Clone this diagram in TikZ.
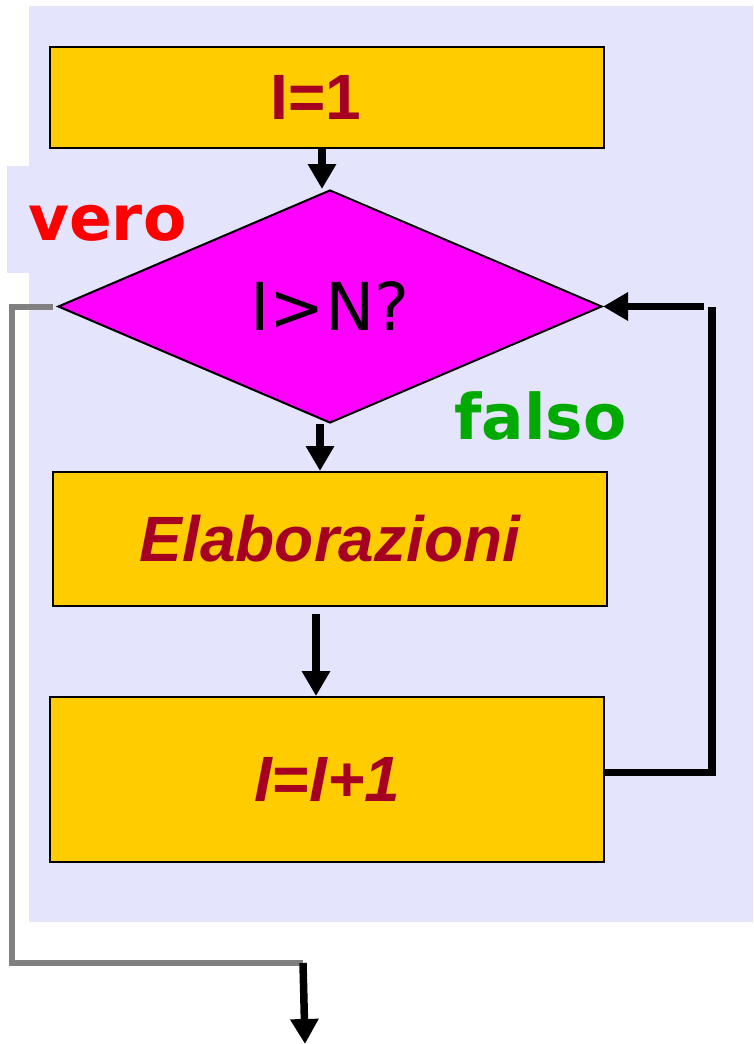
\documentclass[tikz,border=0pt]{standalone}
\usepackage{fontspec}
\setmainfont{Liberation Sans}
\newfontfamily\dejavu{DejaVu Sans}
\usetikzlibrary{shapes.geometric,arrows.meta}
\definecolor{lav}{RGB}{228,228,252}
\definecolor{boxyel}{RGB}{255,204,0}
\definecolor{txtred}{RGB}{165,0,33}
\definecolor{grn}{RGB}{0,170,0}
\definecolor{linegray}{RGB}{128,128,128}
\definecolor{magfill}{RGB}{255,0,255}
\begin{document}
\begin{tikzpicture}[x=1pt,y=-1pt,
  procbox/.style={draw=black,line width=2pt,fill=boxyel,minimum width=554pt,inner sep=0pt,text=txtred,font=\fontsize{64}{64}\selectfont\bfseries},
  decide/.style={diamond,draw=black,line width=2pt,fill=magfill,minimum width=544pt,minimum height=233pt,aspect=2.33,inner sep=0pt,font=\dejavu\fontsize{66}{66}\selectfont},
  arr/.style={line width=7.5pt,-{Triangle[length=25pt,width=27pt]}},
  grayline/.style={line width=6pt,draw=linegray},
  lbl/.style={anchor=base west,inner sep=0pt,font=\dejavu\bfseries\fontsize{63}{63}\selectfont}]
\useasboundingbox (0,0) rectangle (753,1044);
\fill[lav] (29,6) rectangle (753,922);
\fill[lav] (7,166) rectangle (29,273);

\node[procbox,minimum height=101pt] (b1) at (327,97.5) {I=1\hspace*{22pt}};
\node[decide] (dia) at (330,306.5) {I>N?};
\node[procbox,minimum height=134pt,font=\fontsize{64}{64}\selectfont\bfseries\itshape] (b2) at (330,539) {Elaborazioni};
\node[procbox,minimum height=165pt,font=\fontsize{64}{64}\selectfont\bfseries\itshape] (b3) at (327,779.5) {I=I+1};

\node[lbl,text=red] (vero) at (28,240) {vero};
\node[lbl,text=grn] (falso) at (454,439) {falso};

\coordinate (lp) at (712,0);
\coordinate (g1) at (12,963);
\coordinate (g2) at (303,963);
\coordinate (out) at (305,1044);

\draw[arr] ([xshift=-5pt]b1.south) -- ([xshift=-5pt]b1.south |- dia.north);
\draw[arr] ([xshift=-10pt]dia.south) -- ([xshift=-10pt]dia.south |- b2.north);
\draw[arr] ([xshift=-14pt,yshift=-7pt]b2.south) -- ([xshift=-11pt]b3.north);
\draw[line width=7.5pt] ([yshift=7pt]b3.east) -| (lp |- dia.east);
\draw[arr] ([xshift=-8pt]lp |- dia.east) -- (dia.east);
\draw[grayline] ([xshift=-4pt]dia.west) -| (g1) -- (g2);
\draw[arr] (g2) -- (out);
\end{tikzpicture}
\end{document}
